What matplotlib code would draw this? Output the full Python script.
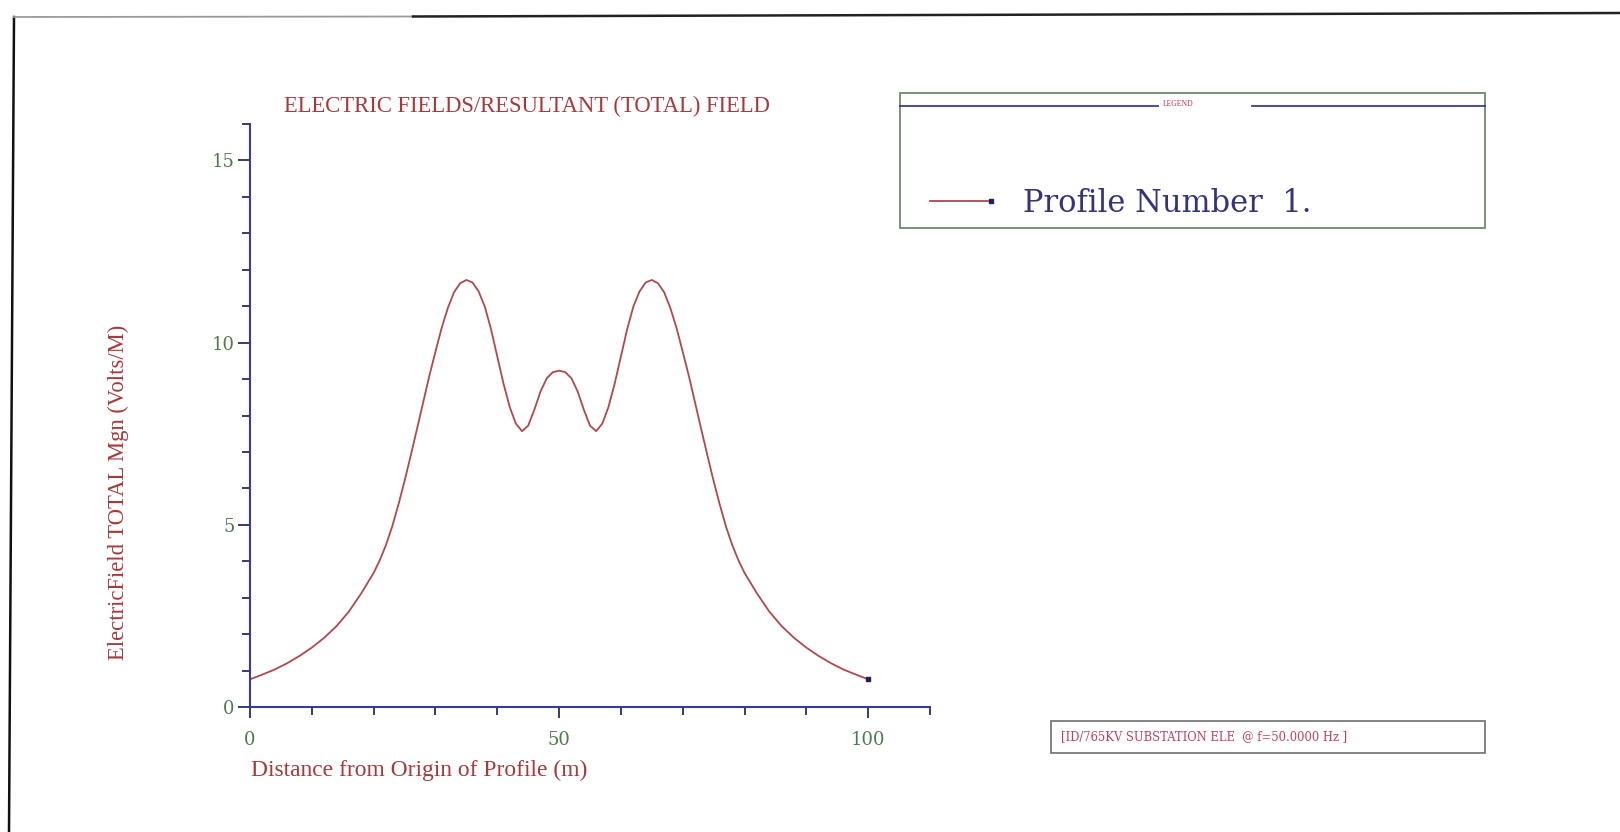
import numpy as np
import matplotlib.pyplot as plt
from matplotlib.lines import Line2D
from matplotlib.patches import Rectangle

# Resultant E-field along the profile (distance in m, field in V/m)
left_dist = [0, 2, 4, 6, 8, 10, 12, 14, 16, 18, 20, 21, 22, 23, 24, 25, 26, 27, 28, 29, 30,
             31, 32, 33, 34, 35, 36, 37, 38, 39, 40, 41, 42, 43, 44, 45, 46, 47, 48, 49]
left_field = [0.76, 0.89, 1.03, 1.20, 1.40, 1.63, 1.90, 2.22, 2.62, 3.12, 3.68, 4.03, 4.45,
              4.95, 5.55, 6.20, 6.90, 7.62, 8.35, 9.08, 9.75, 10.40, 10.95, 11.38, 11.63,
              11.72, 11.65, 11.40, 10.98, 10.36, 9.62, 8.88, 8.24, 7.78, 7.57, 7.72, 8.16,
              8.66, 9.02, 9.19]
centre_dist = 50
centre_field = 9.23

# profile is symmetric about the centre line
distance = np.array(left_dist + [centre_dist] + [100 - d for d in left_dist[::-1]])
field = np.array(left_field + [centre_field] + left_field[::-1])

profile_label = "Profile Number  1."
title = "ELECTRIC FIELDS/RESULTANT (TOTAL) FIELD"
xlabel = "Distance from Origin of Profile (m)"
ylabel = "ElectricField TOTAL Mgn (Volts/M)"
footer = "[ID/765KV SUBSTATION ELE  @ f=50.0000 Hz ]"

RED = "#a8383a"
LINE_RED = "#b0484c"
BLUE = "#3a3a9c"
GREEN = "#4e7a4e"
BOX = "#6e8a6e"
SERIF = ["Liberation Serif", "DejaVu Serif"]

fig = plt.figure(figsize=(16.2, 8.32), dpi=100)
W, H = 1620, 832


def fx(px):
    return px / W


def fy(py):
    return 1 - py / H


ax = fig.add_axes([fx(250), fy(707), fx(930) - fx(250), fy(124) - fy(707)])
ax.plot(distance, field, color=LINE_RED, lw=1.3)
ax.plot(distance[-1], field[-1], 's', color="#20205a", ms=3)

ax.set_xlim(0, 110)
ax.set_ylim(0, 16)
for s in ["top", "right"]:
    ax.spines[s].set_visible(False)
for s in ["left", "bottom"]:
    ax.spines[s].set_color(BLUE)
    ax.spines[s].set_linewidth(1.5)

ax.set_xticks([0, 50, 100])
ax.set_xticks(np.arange(0, 111, 10), minor=True)
ax.set_yticks([0, 5, 10, 15])
ax.set_yticks(np.arange(0, 17, 1), minor=True)
ax.tick_params(axis="both", which="both", direction="out", color="#2a2a70", width=1.3,
               labelcolor=GREEN, labelsize=13)
ax.tick_params(axis="x", which="major", length=8, pad=9)
ax.tick_params(axis="x", which="minor", length=6)
ax.tick_params(axis="y", which="major", length=9, pad=2)
ax.tick_params(axis="y", which="minor", length=6)
for lab in ax.get_xticklabels() + ax.get_yticklabels():
    lab.set_family(["DejaVu Serif"])

fig.text(fx(527), fy(106), title, color=RED, fontsize=16.3, family=SERIF,
         ha="center", va="center")
fig.text(fx(251), fy(770), xlabel, color=RED, fontsize=16.9, family=SERIF,
         ha="left", va="center")
fig.text(fx(118), fy(492), ylabel, color=RED, fontsize=16.3, family=SERIF,
         rotation=90, ha="center", va="center")

# legend panel
fig.add_artist(Rectangle((fx(900), fy(228)), fx(1485) - fx(900), fy(93) - fy(228),
                         transform=fig.transFigure, fill=False, ec=BOX, lw=1.3))
fig.add_artist(Line2D([fx(900), fx(1158)], [fy(106), fy(106)], color=BLUE, lw=1.3))
fig.add_artist(Line2D([fx(1252), fx(1485)], [fy(106), fy(106)], color=BLUE, lw=1.3))
fig.text(fx(1178), fy(104), "LEGEND", color="#c0304a", fontsize=5.5, family=SERIF,
         ha="center", va="center")
fig.add_artist(Line2D([fx(930), fx(988)], [fy(201), fy(201)], color=LINE_RED, lw=1.3))
fig.add_artist(Line2D([fx(991)], [fy(201)], marker="s", ms=2.2, color="#20205a"))
fig.text(fx(1023), fy(203), profile_label, color="#34347e", fontsize=22,
         family=["DejaVu Serif"], ha="left", va="center")

# case info box
fig.add_artist(Rectangle((fx(1051), fy(753)), fx(1485) - fx(1051), fy(721) - fy(753),
                         transform=fig.transFigure, fill=False, ec="#707070", lw=1.2))
fig.text(fx(1061), fy(737), footer, color="#c0405e", fontsize=8.3,
         family=["DejaVu Serif"], ha="left", va="center")

# page frame
fig.add_artist(Line2D([fx(14), fx(9)], [fy(17), fy(832)], color="#111111", lw=1.8))
fig.add_artist(Line2D([fx(14), fx(413)], [fy(17), fy(16.5)], color="#9a9a9a", lw=1.3))
fig.add_artist(Line2D([fx(413), fx(1620)], [fy(16.5), fy(13)], color="#222222", lw=1.8))

fig.savefig("out.png", dpi=100, facecolor="white")
plt.close(fig)
